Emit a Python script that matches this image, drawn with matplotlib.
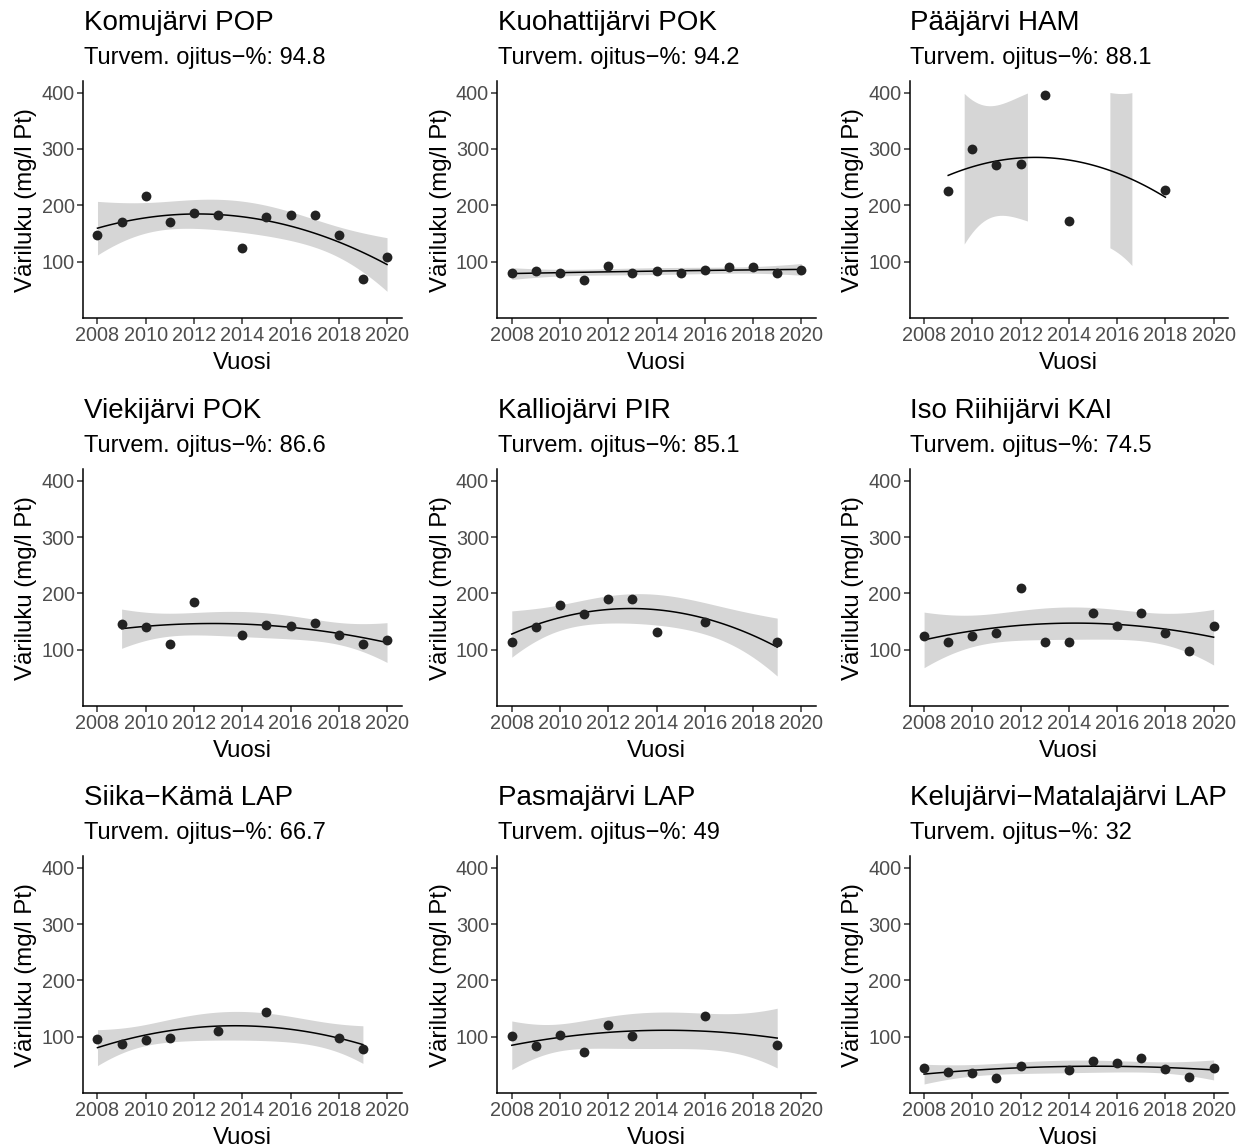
import numpy as np
import matplotlib.pyplot as plt
from math import gamma, pi, sqrt

# Colour number (mg/l Pt) per lake and year
years_komujarvi = [2008, 2009, 2010, 2011, 2012, 2013, 2014, 2015, 2016, 2017, 2018, 2019, 2020]
vari_komujarvi = [147, 170, 217, 170, 187, 183, 125, 180, 182, 183, 148, 70, 109]

years_kuohatti = [2008, 2009, 2010, 2011, 2012, 2013, 2014, 2015, 2016, 2017, 2018, 2019, 2020]
vari_kuohatti = [80, 83, 80, 68, 93, 80, 84, 79, 86, 90, 90, 80, 86]

years_paajarvi = [2009, 2010, 2011, 2012, 2013, 2014, 2018]
vari_paajarvi = [225, 300, 271, 273, 395, 173, 227]

years_viekijarvi = [2009, 2010, 2011, 2012, 2014, 2015, 2016, 2017, 2018, 2019, 2020]
vari_viekijarvi = [145, 140, 111, 185, 127, 144, 142, 148, 127, 111, 117]

years_kalliojarvi = [2008, 2009, 2010, 2011, 2012, 2013, 2014, 2016, 2019]
vari_kalliojarvi = [114, 140, 180, 163, 190, 190, 132, 150, 113]

years_riihijarvi = [2008, 2009, 2010, 2011, 2012, 2013, 2014, 2015, 2016, 2017, 2018, 2019, 2020]
vari_riihijarvi = [125, 114, 124, 130, 210, 114, 114, 166, 143, 166, 130, 97, 143]

years_siikakama = [2008, 2009, 2010, 2011, 2013, 2015, 2018, 2019]
vari_siikakama = [96, 88, 95, 98, 111, 144, 98, 78]

years_pasmajarvi = [2008, 2009, 2010, 2011, 2012, 2013, 2016, 2019]
vari_pasmajarvi = [101, 83, 104, 73, 121, 102, 136, 86]

years_kelujarvi = [2008, 2009, 2010, 2011, 2012, 2014, 2015, 2016, 2017, 2018, 2019, 2020]
vari_kelujarvi = [44, 37, 36, 26, 48, 41, 57, 53, 62, 42, 29, 44]

lake_names = ["Komujärvi POP", "Kuohattijärvi POK", "Pääjärvi HAM",
              "Viekijärvi POK", "Kalliojärvi PIR", "Iso Riihijärvi KAI",
              "Siika\u2212Kämä LAP", "Pasmajärvi LAP", "Kelujärvi\u2212Matalajärvi LAP"]
ojitus_pct = ["94.8", "94.2", "88.1", "86.6", "85.1", "74.5", "66.7", "49", "32"]

lake_years = [years_komujarvi, years_kuohatti, years_paajarvi, years_viekijarvi,
              years_kalliojarvi, years_riihijarvi, years_siikakama, years_pasmajarvi,
              years_kelujarvi]
lake_vari = [vari_komujarvi, vari_kuohatti, vari_paajarvi, vari_viekijarvi,
             vari_kalliojarvi, vari_riihijarvi, vari_siikakama, vari_pasmajarvi,
             vari_kelujarvi]

year_ticks = [2008, 2010, 2012, 2014, 2016, 2018, 2020]
vari_ticks = [100, 200, 300, 400]
y_limit = 400


def t_quantile(p, df):
    # numeric inverse of the t cdf (no scipy available)
    c = gamma((df + 1) / 2) / (sqrt(df * pi) * gamma(df / 2))
    grid = np.linspace(0, 60, 300001)
    pdf = c * (1 + grid ** 2 / df) ** (-(df + 1) / 2)
    cdf = 0.5 + np.concatenate([[0], np.cumsum((pdf[1:] + pdf[:-1]) / 2 * np.diff(grid))])
    return np.interp(p, cdf, grid)


def quad_smooth(x, y, n_grid=80):
    # y ~ poly(x, 2) with a 95 % confidence band
    x = np.asarray(x, float)
    y = np.asarray(y, float)
    x0 = x.mean()
    X = np.column_stack([np.ones_like(x), x - x0, (x - x0) ** 2])
    XtX_inv = np.linalg.inv(X.T @ X)
    beta = XtX_inv @ X.T @ y
    res = y - X @ beta
    df = len(x) - 3
    s = np.sqrt(np.sum(res ** 2) / df)
    xg = np.linspace(x.min(), x.max(), n_grid)
    G = np.column_stack([np.ones_like(xg), xg - x0, (xg - x0) ** 2])
    fit = G @ beta
    se = s * np.sqrt(np.einsum('ij,jk,ik->i', G, XtX_inv, G))
    t = t_quantile(0.975, df)
    return xg, fit, fit - t * se, fit + t * se


plt.rcParams['font.family'] = ['Liberation Sans', 'DejaVu Sans']

W, H = 1249, 1146
fig = plt.figure(figsize=(W / 100, H / 100), dpi=100)

col_left = [83, 497.3, 909.6]
row_top = [81.4, 469.5, 856.5]
ax_w, ax_h = 318.5, 236.6

for i in range(9):
    r, c = divmod(i, 3)
    ax = fig.add_axes([col_left[c] / W, 1 - (row_top[r] + ax_h) / H, ax_w / W, ax_h / H])

    xg, fit, lo, hi = quad_smooth(lake_years[i], lake_vari[i])
    # values outside the scale limits are dropped, as ggplot does
    inside = (lo >= 0) & (hi <= y_limit)
    ax.fill_between(xg, lo, hi, where=inside, color='#d6d6d6', lw=0, zorder=1)
    ax.plot(xg, fit, color='black', lw=1.1, zorder=2)
    ax.scatter(lake_years[i], lake_vari[i], s=50, color='#222222', lw=0, zorder=3)

    ax.set_xlim(2007.4, 2020.6)
    ax.set_ylim(0, 420)
    ax.set_xticks(year_ticks)
    ax.set_yticks(vari_ticks)
    ax.tick_params(labelsize=14.3, labelcolor='#4d4d4d', color='#333333',
                   length=4, width=1.1, pad=2)
    for side in ['top', 'right']:
        ax.spines[side].set_visible(False)
    for side in ['left', 'bottom']:
        ax.spines[side].set_linewidth(1.1)
    ax.set_xlabel("Vuosi", fontsize=17.3, labelpad=4.5)
    ax.set_ylabel("Väriluku (mg/l Pt)", fontsize=17.3, labelpad=3)

    ax.annotate(lake_names[i], xy=(0, 1), xycoords='axes fraction',
                xytext=(0.5, 37), textcoords='offset points',
                fontsize=20, va='baseline', ha='left')
    ax.annotate("Turvem. ojitus\u2212%: " + ojitus_pct[i], xy=(0, 1),
                xycoords='axes fraction', xytext=(0.5, 12.3),
                textcoords='offset points', fontsize=17, va='baseline',
                ha='left')

fig.savefig("out.png", dpi=100)
